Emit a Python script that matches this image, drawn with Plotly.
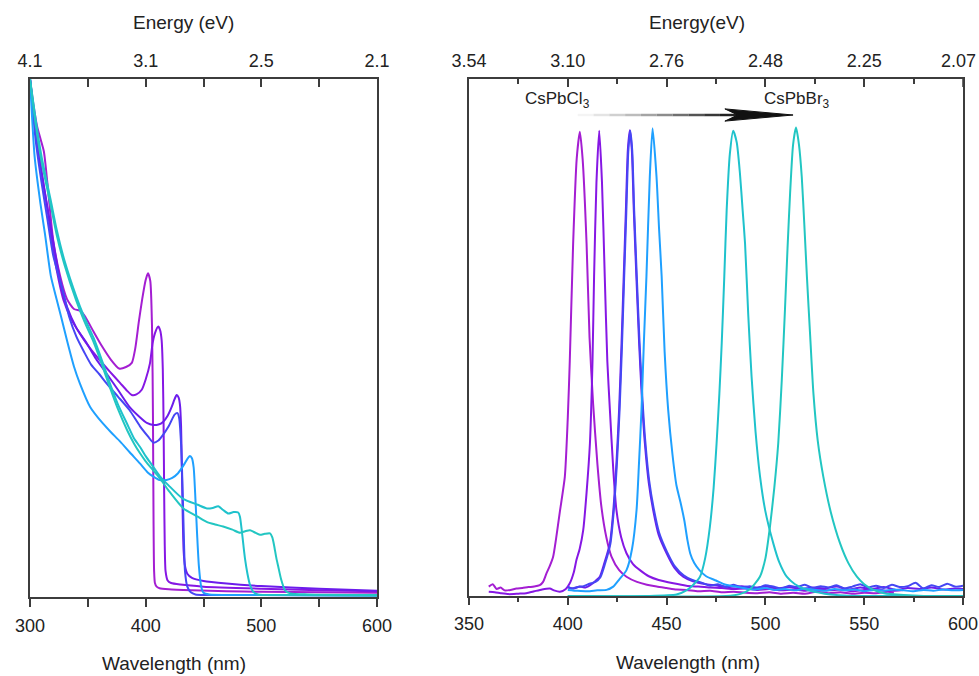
import plotly.graph_objects as go

# ---------------- Absorption (left panel) ----------------
abs_colors = ["#A41ED2", "#8617E4", "#6C1CEC", "#4646F4", "#1FA0FF", "#1FC2CC", "#22C6C2"]

abs1_x = [300, 303, 306, 309, 312, 315, 320, 326, 332, 338, 344, 348, 355, 362, 370, 377, 383, 388, 391, 394, 397, 400, 402, 404, 405.5, 406.3, 406.8, 407.3, 408, 409.5, 412, 420, 440, 470, 500, 550, 600]
abs1_y = [1.0, 0.95, 0.91, 0.885, 0.86, 0.8, 0.69, 0.62, 0.575, 0.556, 0.552, 0.54, 0.512, 0.485, 0.458, 0.441, 0.444, 0.452, 0.48, 0.53, 0.575, 0.612, 0.625, 0.61, 0.52, 0.35, 0.15, 0.05, 0.027, 0.02, 0.017, 0.015, 0.013, 0.011, 0.01, 0.009, 0.008]

abs2_x = [300, 305, 310, 315, 320, 325, 329, 336, 343, 352, 360, 369, 378, 384, 388, 392, 396.6, 400, 403.7, 406, 408, 410.9, 412.5, 413.8, 414.8, 415.5, 416, 416.5, 417.2, 419, 422, 430, 450, 500, 550, 600]
abs2_y = [1.0, 0.9, 0.82, 0.75, 0.67, 0.61, 0.573, 0.535, 0.509, 0.48, 0.458, 0.435, 0.413, 0.398, 0.39, 0.391, 0.4, 0.42, 0.451, 0.49, 0.509, 0.522, 0.515, 0.496, 0.44, 0.33, 0.2, 0.1, 0.05, 0.032, 0.027, 0.024, 0.02, 0.016, 0.013, 0.011]

abs3_x = [300, 305, 310, 316, 322, 327, 332, 340, 349, 357, 366, 376, 386, 395, 401, 406.6, 411, 415, 419, 422.5, 425, 426.8, 428.5, 429.7, 430.6, 431.3, 432, 432.8, 434, 436, 440, 450, 470, 500, 550, 600]
abs3_y = [1.0, 0.9, 0.82, 0.74, 0.66, 0.6, 0.56, 0.52, 0.49, 0.46, 0.432, 0.4, 0.367, 0.347, 0.336, 0.332, 0.333, 0.338, 0.35, 0.367, 0.382, 0.39, 0.385, 0.37, 0.33, 0.25, 0.16, 0.09, 0.06, 0.045, 0.037, 0.031, 0.026, 0.021, 0.016, 0.012]

abs4_x = [300, 305, 310, 315, 320, 329, 334, 340, 347, 353, 360, 366, 376, 386, 395, 402, 406.6, 411, 415, 420, 425, 427.5, 429, 430.5, 431.5, 432.5, 433.2, 434, 436, 439, 443, 500, 600]
abs4_y = [1.0, 0.88, 0.8, 0.73, 0.66, 0.586, 0.54, 0.503, 0.472, 0.448, 0.43, 0.413, 0.387, 0.361, 0.33, 0.31, 0.298, 0.302, 0.313, 0.33, 0.352, 0.355, 0.345, 0.3, 0.24, 0.16, 0.1, 0.05, 0.02, 0.009, 0.005, 0.004, 0.003]

abs5_x = [300, 304, 309, 313, 318, 323, 327, 332, 338, 343, 352, 363, 370, 378, 386, 395, 402, 407, 412, 418, 423, 428, 433, 436.5, 438.3, 440, 441.5, 443, 444.5, 446, 448, 450, 455, 480, 600]
abs5_y = [1.0, 0.85, 0.76, 0.7, 0.62, 0.575, 0.54, 0.495, 0.445, 0.413, 0.367, 0.335, 0.318, 0.3, 0.28, 0.258, 0.24, 0.232, 0.226, 0.226, 0.23, 0.239, 0.255, 0.268, 0.272, 0.268, 0.25, 0.19, 0.12, 0.06, 0.02, 0.008, 0.005, 0.004, 0.003]

abs6_x = [300, 305, 310, 318, 323, 330, 340, 347, 355, 362, 369, 376, 384, 390, 395, 400, 406, 412, 420, 432, 445, 453, 458, 462.8, 467, 471.5, 476, 480, 481.5, 483, 484.5, 486, 488, 490, 493, 497, 520, 600]
abs6_y = [1.0, 0.92, 0.85, 0.765, 0.71, 0.648, 0.58, 0.54, 0.5, 0.458, 0.413, 0.372, 0.334, 0.306, 0.29, 0.272, 0.253, 0.234, 0.215, 0.19, 0.178, 0.171, 0.172, 0.175, 0.168, 0.161, 0.164, 0.163, 0.155, 0.13, 0.1, 0.072, 0.045, 0.025, 0.01, 0.005, 0.004, 0.003]

abs7_x = [300, 305, 310, 318, 323, 330, 340, 347, 355, 362, 369, 376, 384, 390, 395, 400, 406, 412, 420, 432.6, 445, 452.7, 460, 467, 475, 481.5, 486, 490.2, 494, 498.8, 503, 507.5, 509.5, 511, 513, 514.7, 517, 520.5, 525, 540, 600]
abs7_y = [1.0, 0.91, 0.84, 0.755, 0.7, 0.64, 0.572, 0.532, 0.492, 0.45, 0.405, 0.363, 0.322, 0.296, 0.278, 0.262, 0.246, 0.23, 0.205, 0.171, 0.155, 0.145, 0.14, 0.136, 0.13, 0.124, 0.127, 0.129, 0.125, 0.12, 0.122, 0.123, 0.115, 0.1, 0.075, 0.058, 0.035, 0.013, 0.007, 0.005, 0.004]

abs_x = [abs1_x, abs2_x, abs3_x, abs4_x, abs5_x, abs6_x, abs7_x]
abs_y = [abs1_y, abs2_y, abs3_y, abs4_y, abs5_y, abs6_y, abs7_y]

# ---------------- Photoluminescence (right panel) ----------------
pl_colors = ["#A41ED2", "#8617E4", "#6C1CEC", "#4646F4", "#1FA0FF", "#1FC2CC", "#22C6C2"]

pl1_x = [360, 362, 364, 366, 368, 371, 374, 377, 380, 383, 385.8, 387.5, 389.2, 391, 392.6, 394, 396, 398.5, 400, 401, 402.7, 404.5, 406.1, 407.5, 409.5, 411, 412.8, 415, 417, 419.5, 422.1, 426, 429.7, 435, 440, 445, 450, 455, 460, 466, 472, 478, 484, 490, 496, 502, 508, 514, 520, 526, 532, 538, 544, 550, 556, 562, 565]
pl1_y = [0.02, 0.025, 0.015, 0.018, 0.012, 0.013, 0.016, 0.017, 0.019, 0.02, 0.023, 0.03, 0.048, 0.065, 0.084, 0.12, 0.18, 0.254, 0.38, 0.5, 0.75, 0.93, 0.988, 0.93, 0.75, 0.55, 0.41, 0.28, 0.19, 0.125, 0.084, 0.055, 0.041, 0.03, 0.024, 0.02, 0.017, 0.014, 0.013, 0.01, 0.011, 0.008, 0.009, 0.007, 0.006, 0.008, 0.005, 0.007, 0.005, 0.009, 0.006, 0.008, 0.005, 0.007, 0.006, 0.009, 0.007]

pl2_x = [360, 363, 366, 370, 375, 379, 383, 387, 390.9, 393, 396, 399, 401, 403, 404.4, 406, 407.8, 409.5, 411.2, 412.5, 413.3, 414.5, 415.9, 417.3, 418.7, 420, 421.3, 423, 424.6, 427, 429.7, 433, 436.5, 441, 446, 453.4, 460, 466, 472, 478, 484, 490, 496, 502, 508, 514, 520, 526, 532, 538, 544, 550, 556, 562, 570]
pl2_y = [0.009, 0.008, 0.006, 0.004, 0.005, 0.006, 0.01, 0.014, 0.016, 0.012, 0.009, 0.015, 0.027, 0.05, 0.077, 0.1, 0.14, 0.22, 0.325, 0.5, 0.68, 0.88, 0.99, 0.88, 0.68, 0.5, 0.396, 0.27, 0.183, 0.125, 0.091, 0.068, 0.055, 0.042, 0.034, 0.027, 0.022, 0.02, 0.018, 0.017, 0.015, 0.016, 0.013, 0.015, 0.012, 0.014, 0.011, 0.015, 0.012, 0.014, 0.01, 0.013, 0.015, 0.011, 0.013]

pl3_x = [400, 403, 406, 409, 412, 414, 416.2, 418.5, 421.3, 423, 424.7, 426, 427.2, 428.3, 429.4, 430.4, 431.4, 432.4, 433.4, 434.7, 436.1, 437.5, 439, 441, 443.2, 446, 450, 454, 458.4, 463, 470, 476, 482, 488, 494, 500, 506, 512, 518, 524, 530, 536, 542, 548, 554, 560, 566, 572, 578, 584, 590, 596, 600]
pl3_y = [0.018, 0.016, 0.02, 0.018, 0.025, 0.032, 0.041, 0.07, 0.112, 0.18, 0.289, 0.4, 0.538, 0.68, 0.821, 0.95, 0.991, 0.95, 0.821, 0.68, 0.538, 0.42, 0.325, 0.24, 0.183, 0.13, 0.091, 0.06, 0.041, 0.032, 0.025, 0.022, 0.019, 0.021, 0.017, 0.02, 0.016, 0.019, 0.015, 0.018, 0.016, 0.02, 0.014, 0.018, 0.015, 0.019, 0.013, 0.017, 0.015, 0.018, 0.014, 0.016, 0.015]

pl4_x = [400, 402, 405, 408, 411, 414, 416.5, 418.8, 421.5, 423.2, 424.9, 426.2, 427.4, 428.5, 429.6, 430.6, 431.6, 432.6, 433.6, 434.9, 436.3, 437.7, 439.2, 441.2, 443.4, 446.2, 450.2, 454.2, 458.6, 463, 468, 472, 476, 480, 484, 488, 492, 496, 500, 504, 508, 512, 516, 520, 524, 528, 532, 536, 540, 544, 548, 552, 556, 560, 564, 568, 572, 576, 580, 584, 588, 592, 596, 600]
pl4_y = [0.02, 0.016, 0.019, 0.021, 0.026, 0.03, 0.04, 0.068, 0.11, 0.178, 0.285, 0.395, 0.53, 0.675, 0.815, 0.945, 0.99, 0.948, 0.82, 0.682, 0.54, 0.425, 0.33, 0.245, 0.188, 0.135, 0.094, 0.063, 0.044, 0.034, 0.028, 0.022, 0.025, 0.019, 0.024, 0.018, 0.021, 0.017, 0.023, 0.02, 0.016, 0.022, 0.019, 0.024, 0.017, 0.021, 0.018, 0.023, 0.016, 0.02, 0.025, 0.018, 0.022, 0.017, 0.024, 0.019, 0.021, 0.028, 0.016, 0.023, 0.019, 0.026, 0.02, 0.022]

pl5_x = [400, 405, 410, 415, 419.6, 423, 426, 429.7, 432.5, 434.8, 436, 437.3, 438.5, 439.8, 441.5, 442.9, 444.9, 446.2, 447.5, 449, 450.8, 453, 455, 457, 459, 460.5, 462, 464, 466.6, 470, 475, 480, 485, 490, 495, 500, 505, 510, 515, 520, 525, 530, 535, 540, 545, 550, 555, 560, 565, 570, 575, 580, 585, 590, 595, 600]
pl5_y = [0.013, 0.011, 0.01, 0.012, 0.013, 0.02, 0.035, 0.055, 0.1, 0.183, 0.28, 0.396, 0.54, 0.68, 0.892, 0.995, 0.892, 0.78, 0.68, 0.52, 0.396, 0.3, 0.235, 0.2, 0.16, 0.12, 0.09, 0.07, 0.055, 0.042, 0.033, 0.024, 0.02, 0.016, 0.014, 0.017, 0.013, 0.015, 0.012, 0.016, 0.013, 0.011, 0.015, 0.012, 0.014, 0.01, 0.013, 0.011, 0.014, 0.012, 0.01, 0.013, 0.011, 0.014, 0.012, 0.013]

pl6_x = [400, 440, 455, 460, 463, 466.9, 469.5, 471.9, 473.8, 475.3, 476.7, 477.9, 479.2, 480.4, 482, 483.7, 485.5, 487.1, 488.5, 489.7, 491.3, 493, 495, 497.3, 500, 504, 507, 510.8, 515, 521, 530, 540, 550, 600]
pl6_y = [0.0, 0.0, 0.003, 0.012, 0.022, 0.041, 0.08, 0.147, 0.23, 0.325, 0.43, 0.538, 0.68, 0.821, 0.94, 0.99, 0.965, 0.9, 0.82, 0.75, 0.6, 0.467, 0.35, 0.254, 0.18, 0.112, 0.072, 0.041, 0.025, 0.013, 0.005, 0.001, 0.0, 0.0]

pl7_x = [400, 480, 487, 492, 497.2, 500, 502.3, 504.5, 506.5, 508.3, 509.9, 511.2, 512.5, 514, 515.5, 517, 518.4, 519.7, 521, 522.7, 524.3, 526.5, 529.3, 533, 537.8, 542, 546.3, 550, 554.7, 560, 570, 580, 600]
pl7_y = [0.0, 0.0, 0.004, 0.014, 0.041, 0.08, 0.147, 0.23, 0.325, 0.46, 0.609, 0.74, 0.857, 0.96, 0.997, 0.96, 0.892, 0.79, 0.68, 0.55, 0.431, 0.33, 0.254, 0.18, 0.112, 0.07, 0.041, 0.025, 0.013, 0.006, 0.002, 0.0, 0.0]

pl_x = [pl1_x, pl2_x, pl3_x, pl4_x, pl5_x, pl6_x, pl7_x]
pl_y = [pl1_y, pl2_y, pl3_y, pl4_y, pl5_y, pl6_y, pl7_y]

# ---------------- Axis labels ----------------
left_wl_ticks = [300, 400, 500, 600]
left_wl_minor = [350, 450, 550]
left_wl_text = ["300", "400", "500", "600"]
left_ev_text = ["4.1", "3.1", "2.5", "2.1"]
right_wl_ticks = [350, 400, 450, 500, 550, 600]
right_wl_minor = [375, 425, 475, 525, 575]
right_wl_text = ["350", "400", "450", "500", "550", "600"]
right_ev_ticks = [350, 400, 450, 500, 550]
right_ev_text = ["3.54", "3.10", "2.76", "2.48", "2.25"]
right_ev_last = "2.07"

W, H = 979, 676
FONT = "Liberation Sans, Arial, sans-serif"
AX = "#3c3c3c"

fig = go.Figure()
for xs, ys, c in zip(abs_x, abs_y, abs_colors):
    fig.add_trace(go.Scatter(x=xs, y=ys, mode="lines", line=dict(color=c, width=2, shape="spline", smoothing=0.6),
                             xaxis="x", yaxis="y", showlegend=False))
for xs, ys, c in zip(pl_x, pl_y, pl_colors):
    fig.add_trace(go.Scatter(x=xs, y=ys, mode="lines", line=dict(color=c, width=2, shape="spline", smoothing=0.6),
                             xaxis="x2", yaxis="y2", showlegend=False))
# carriers for top axes
fig.add_trace(go.Scatter(x=[300, 600], y=[None, None], mode="lines", xaxis="x3", yaxis="y", showlegend=False, hoverinfo="skip"))
fig.add_trace(go.Scatter(x=[350, 600], y=[None, None], mode="lines", xaxis="x4", yaxis="y2", showlegend=False, hoverinfo="skip"))

tickfont = dict(family=FONT, size=18, color="#222")
common = dict(showgrid=False, zeroline=False, showline=True, linecolor=AX, linewidth=1.5, automargin=False,
              tickcolor=AX, tickwidth=1.5, tickfont=tickfont, ticklabeloverflow="allow")

yl0, yl1 = 1 - 597 / H, 1 - 79 / H
yr0, yr1 = 1 - 596 / H, 1 - 79 / H

fig.update_layout(
    template="none",
    width=W, height=H, margin=dict(l=0, r=0, t=0, b=0, autoexpand=False),
    paper_bgcolor="white", plot_bgcolor="white",
    xaxis=dict(domain=[30 / W, 377 / W], range=[300, 600], anchor="y", ticks="outside", ticklen=8,
               tickmode="array", tickvals=left_wl_ticks, ticktext=left_wl_text, ticklabelstandoff=4,
               minor=dict(ticks="outside", ticklen=8, tickvals=left_wl_minor, tickcolor=AX, tickwidth=1.5),
               **common),
    xaxis3=dict(overlaying="x", side="top", anchor="y", range=[300, 600], ticks="inside", ticklen=8,
                tickmode="array", tickvals=left_wl_ticks, ticktext=left_ev_text, ticklabelstandoff=3,
                minor=dict(ticks="inside", ticklen=8, tickvals=left_wl_minor, tickcolor=AX, tickwidth=1.5),
                **common),
    yaxis=dict(domain=[yl0, yl1], range=[0, 1], anchor="x", mirror=True, showticklabels=False, ticks="",
               automargin=False, showgrid=False, zeroline=False, showline=True, linecolor=AX, linewidth=1.5),
    xaxis2=dict(domain=[469 / W, 963 / W], range=[350, 600], anchor="y2", ticks="outside", ticklen=7,
                tickmode="array", tickvals=right_wl_ticks, ticktext=right_wl_text, ticklabelstandoff=4,
                minor=dict(ticks="outside", ticklen=4, tickvals=right_wl_minor, tickcolor=AX, tickwidth=1.5),
                **common),
    xaxis4=dict(overlaying="x2", side="top", anchor="y2", range=[350, 600], ticks="inside", ticklen=8,
                tickmode="array", tickvals=right_ev_ticks, ticktext=right_ev_text, ticklabelstandoff=3,
                minor=dict(ticks="inside", ticklen=5, tickvals=right_wl_minor, tickcolor=AX, tickwidth=1.5),
                **common),
    yaxis2=dict(domain=[yr0, yr1], range=[0, 1.1], anchor="x2", mirror=True, showticklabels=False, ticks="",
                automargin=False, showgrid=False, zeroline=False, showline=True, linecolor=AX, linewidth=1.5),
)
# major tick at 600 on the top-right axis (its label is placed as an annotation to stay inside the page)
fig.add_shape(type="line", xref="x2", yref="paper", x0=600, x1=600, y0=yr1, y1=yr1 - 8 / H,
              line=dict(color=AX, width=1.5))
fig.add_annotation(text=right_ev_last, x=958 / W, y=yr1 + 6 / H, xref="paper", yref="paper",
                   xanchor="center", yanchor="bottom", showarrow=False, font=tickfont)

tfont = dict(family=FONT, size=19, color="#222")
titles = [
    ("Energy (eV)", 183, 22),
    ("Energy(eV)", 697, 22),
    ("Wavelength (nm)", 174, 663),
    ("Wavelength (nm)", 688, 662),
]
for t, px, py in titles:
    fig.add_annotation(text=t, x=px / W, y=1 - py / H, xref="paper", yref="paper",
                       xanchor="center", yanchor="middle", showarrow=False, font=tfont)

lfont = dict(family=FONT, size=17, color="#222")
fig.add_annotation(text="CsPbCl<sub>3</sub>", x=395, y=1.027, xref="x2", yref="y2", xanchor="center",
                   yanchor="bottom", showarrow=False, font=lfont)
fig.add_annotation(text="CsPbBr<sub>3</sub>", x=516, y=1.027, xref="x2", yref="y2", xanchor="center",
                   yanchor="bottom", showarrow=False, font=lfont)

# gradient arrow
ya = 1.0234
seg_x = [405, 413, 421, 429, 437, 445, 453, 461, 469, 477, 486]
greys = ["#f4f4f4", "#e4e4e4", "#d0d0d0", "#bcbcbc", "#a4a4a4", "#8c8c8c", "#707070", "#545454", "#383838", "#202020"]
for i in range(len(greys)):
    fig.add_shape(type="line", xref="x2", yref="y2", x0=seg_x[i], x1=seg_x[i + 1], y0=ya, y1=ya,
                  line=dict(color=greys[i], width=2.5))
fig.add_shape(type="path", xref="x2", yref="y2",
              path=f"M 479.5 {ya + 0.013} L 514 {ya} L 479.5 {ya - 0.013} L 486 {ya} Z",
              fillcolor="#111", line=dict(color="#111", width=1))

fig.write_html("out.html")
